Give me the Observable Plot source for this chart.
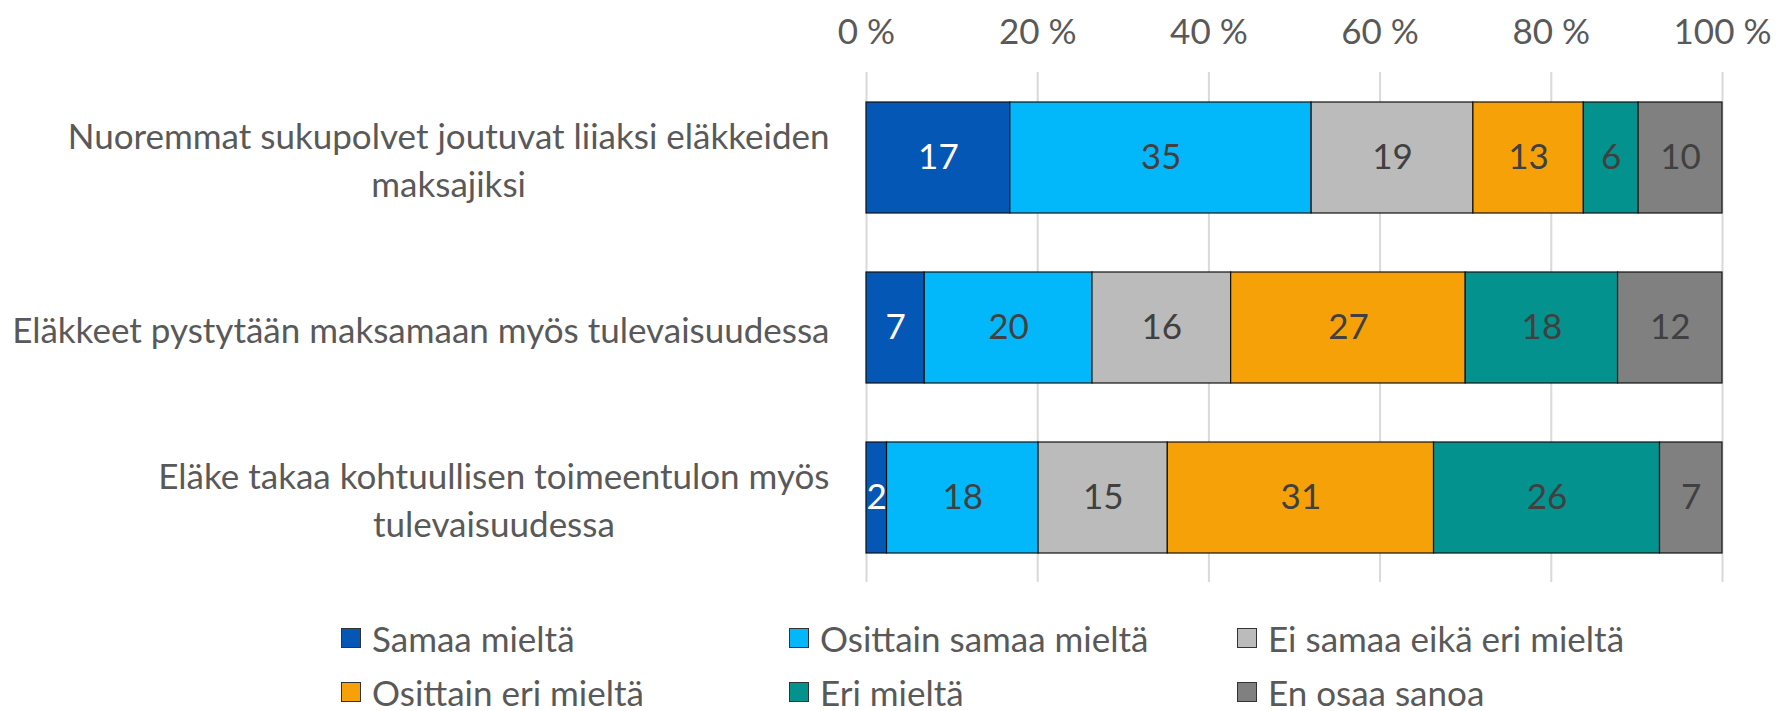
<!DOCTYPE html>
<html>
<head>
<meta charset="utf-8">
<script src="https://cdn.jsdelivr.net/npm/d3@7"></script>
<script src="https://cdn.jsdelivr.net/npm/@observablehq/plot@0.6"></script>
<style>
  html, body { margin: 0; padding: 0; background: #fff; overflow: hidden; }
  #wrap { position: relative; width: 1776px; height: 711px; font-family: Lato, sans-serif; }
  #legend { position: absolute; left: 341px; top: 611px; display: grid; grid-template-columns: 448px 448px 448px; grid-template-rows: 54px 54px; }
  .item { display: flex; align-items: center; font-size: 35px; line-height: 1; color: #595959; white-space: nowrap; }
  .sw { width: 18px; height: 18px; border: 1px solid #333; margin-right: 11px; flex: none; }
</style>
</head>
<body>
<div id="wrap"><div id="chart"></div><div id="legend"></div></div>
<script>
const categories = [
  "Nuoremmat sukupolvet joutuvat liiaksi eläkkeiden\nmaksajiksi",
  "Eläkkeet pystytään maksamaan myös tulevaisuudessa",
  "Eläke takaa kohtuullisen toimeentulon myös\ntulevaisuudessa"
];
const responses = ["Samaa mieltä", "Osittain samaa mieltä", "Ei samaa eikä eri mieltä", "Osittain eri mieltä", "Eri mieltä", "En osaa sanoa"];
const colors = ["#0457b5", "#03b8fa", "#bbbbbb", "#f7a108", "#03928e", "#808080"];
const samaaMielta = [16.8, 6.8, 2.4];
const osittainSamaa = [35.2, 19.6, 17.7];
const eiSamaaEikaEri = [18.9, 16.2, 15.1];
const osittainEri = [12.9, 27.4, 31.1];
const eriMielta = [6.4, 17.8, 26.4];
const enOsaaSanoa = [9.8, 12.2, 7.3];
const xTicks = [0, 20, 40, 60, 80, 100];

const series = [samaaMielta, osittainSamaa, eiSamaaEikaEri, osittainEri, eriMielta, enOsaaSanoa];
const data = [];
categories.forEach((c, i) => {
  series.forEach((s, j) => data.push({category: c, response: responses[j], value: s[i]}));
});

const FONT = "Lato, sans-serif";
const FS = 35;
const ctx = document.createElement("canvas").getContext("2d");
ctx.font = `${FS}px Lato`;
const gap = 37;
const labelMarks = categories.map(c => {
  const w = d3.max(c.split("\n"), l => ctx.measureText(l).width);
  return Plot.text([c], {
    y: d => d, text: d => d, frameAnchor: "left", textAnchor: "middle",
    dx: -(gap + w / 2), lineHeight: 1.37, fontSize: FS, fill: "#595959", lineAnchor: "middle"
  });
});

const chart = Plot.plot({
  width: 1776,
  height: 600,
  marginLeft: 866,
  marginRight: 54,
  marginTop: 72,
  marginBottom: 18,
  style: {fontFamily: FONT, fontSize: FS + "px", color: "#595959", background: "#fff"},
  x: {domain: [0, 100], axis: null, label: null},
  y: {domain: categories, paddingInner: 0.35, paddingOuter: 0.175, axis: null},
  color: {domain: responses, range: colors},
  marks: [
    Plot.gridX(xTicks, {stroke: "#d9d9d9", strokeOpacity: 1, strokeWidth: 2}),
    Plot.barX(data, Plot.stackX({x: "value", y: "category", fill: "response", stroke: "#111", strokeWidth: 1.2, inset: 0})),
    Plot.text(data, Plot.stackX({
      x: "value", y: "category", text: d => Math.round(d.value),
      fill: d => d.response === "Samaa mieltä" ? "#ffffff" : "#404040", fontSize: FS
    })),
    ...labelMarks,
    Plot.axisX(xTicks, {anchor: "top", label: null, tickSize: 0, tickPadding: 29, tickFormat: d => `${d} %`, fontSize: FS, fill: "#595959"})
  ]
});
document.getElementById("chart").appendChild(chart);

const legend = document.getElementById("legend");
responses.forEach((r, i) => {
  const it = document.createElement("div");
  it.className = "item";
  const sw = document.createElement("span");
  sw.className = "sw";
  sw.style.background = colors[i];
  it.appendChild(sw);
  it.appendChild(document.createTextNode(r));
  legend.appendChild(it);
});
</script>
</body>
</html>
